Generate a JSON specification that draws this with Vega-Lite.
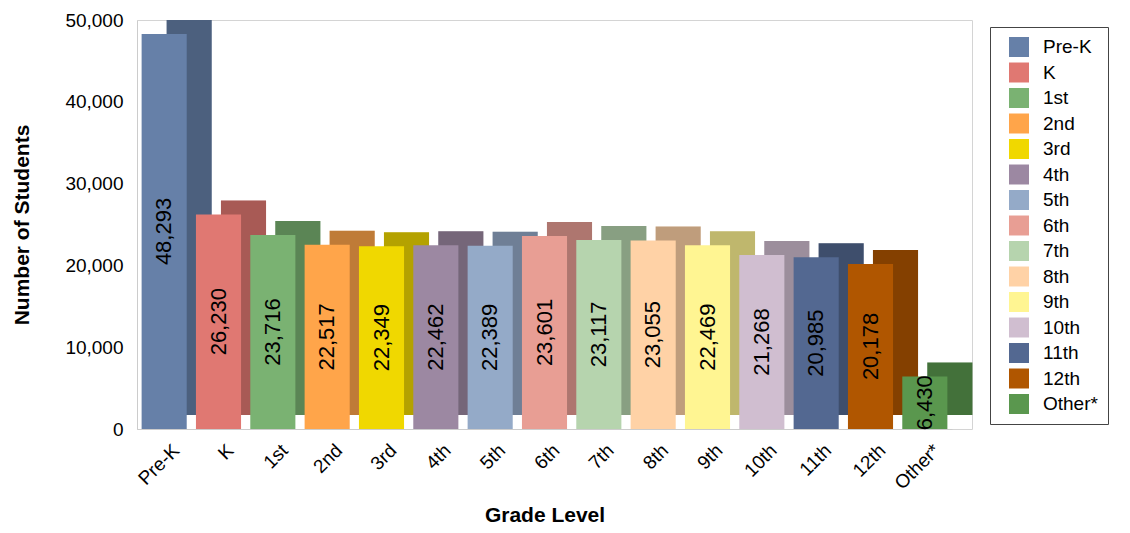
{
  "$schema": "https://vega.github.io/schema/vega-lite/v6.json",
  "width": 835,
  "height": 409,
  "autosize": "none",
  "padding": {"left": 137, "top": 20, "right": 158, "bottom": 104},
  "background": "white",
  "config": {
    "font": "Liberation Sans",
    "view": {"stroke": "#d4d4d4"}
  },
  "data": {
    "values": [
      {"grade": "Pre-K", "students": 48293},
      {"grade": "K", "students": 26230},
      {"grade": "1st", "students": 23716},
      {"grade": "2nd", "students": 22517},
      {"grade": "3rd", "students": 22349},
      {"grade": "4th", "students": 22462},
      {"grade": "5th", "students": 22389},
      {"grade": "6th", "students": 23601},
      {"grade": "7th", "students": 23117},
      {"grade": "8th", "students": 23055},
      {"grade": "9th", "students": 22469},
      {"grade": "10th", "students": 21268},
      {"grade": "11th", "students": 20985},
      {"grade": "12th", "students": 20178},
      {"grade": "Other*", "students": 6430}
    ]
  },
  "encoding": {
    "x": {
      "field": "grade",
      "type": "nominal",
      "sort": null,
      "scale": {"range": [0, 815], "paddingInner": 0.17, "paddingOuter": 0.085},
      "axis": {
        "title": "Grade Level",
        "titleFont": "Liberation Sans",
        "titleFontSize": 21,
        "titleFontWeight": "bold",
        "titleColor": "black",
        "titlePadding": 12,
        "labelAngle": -45,
        "labelAlign": "right",
        "labelBaseline": "middle",
        "labelFontSize": 19,
        "labelColor": "black",
        "labelPadding": 18,
        "labelOffset": 12,
        "ticks": false,
        "domainColor": "#cccccc"
      }
    },
    "color": {
      "field": "grade",
      "type": "nominal",
      "sort": null,
      "scale": {
        "domain": ["Pre-K", "K", "1st", "2nd", "3rd", "4th", "5th", "6th", "7th", "8th", "9th", "10th", "11th", "12th", "Other*"],
        "range": ["#6680A8", "#E07872", "#7AB272", "#FFA54A", "#F0D800", "#9C88A2", "#94AAC8", "#E89E94", "#B6D4AE", "#FFD2A6", "#FFF592", "#D0BED0", "#536891", "#B05600", "#5A974E"]
      },
      "legend": {
        "title": null,
        "orient": "none",
        "legendX": 853,
        "legendY": 7,
        "symbolType": "square",
        "symbolSize": 400,
        "symbolStrokeWidth": 0,
        "symbolOffset": 9,
        "labelFontSize": 19,
        "labelColor": "black",
        "labelOffset": 14,
        "rowPadding": 5.5,
        "padding": 10,
        "strokeColor": "#444444",
        "fillColor": "white"
      }
    }
  },
  "layer": [
    {
      "mark": {"type": "bar", "xOffset": 25, "x2Offset": 25, "yOffset": -14, "y2Offset": -14},
      "encoding": {
        "y": {"field": "students", "type": "quantitative", "scale": {"domain": [0, 50000]}, "axis": null}
      }
    },
    {
      "mark": {"type": "bar", "xOffset": 25, "x2Offset": 25, "yOffset": -14, "y2Offset": -14, "opacity": 0.25},
      "encoding": {
        "y": {"field": "students", "type": "quantitative", "scale": {"domain": [0, 50000]}, "axis": null},
        "color": {"value": "black"}
      }
    },
    {
      "mark": {"type": "bar"},
      "encoding": {
        "y": {
          "field": "students",
          "type": "quantitative",
          "scale": {"domain": [0, 50000]},
          "axis": {
            "title": "Number of Students",
            "titleFontSize": 21,
            "titleFontWeight": "bold",
            "titleColor": "black",
            "titlePadding": 32,
            "values": [0, 10000, 20000, 30000, 40000, 50000],
            "format": ",d",
            "labelFontSize": 19,
            "labelColor": "black",
            "labelPadding": 14,
            "ticks": false,
            "domainColor": "#cccccc",
            "gridColor": "#cccccc"
          }
        }
      }
    },
    {
      "mark": {"type": "text", "angle": 270, "fontSize": 22, "align": "center", "baseline": "middle"},
      "encoding": {
        "y": {"field": "students", "type": "quantitative", "scale": {"domain": [0, 100000]}, "axis": null},
        "text": {"field": "students", "type": "quantitative", "format": ",d"},
        "color": {"value": "black"}
      }
    }
  ],
  "resolve": {"scale": {"y": "independent"}}
}
